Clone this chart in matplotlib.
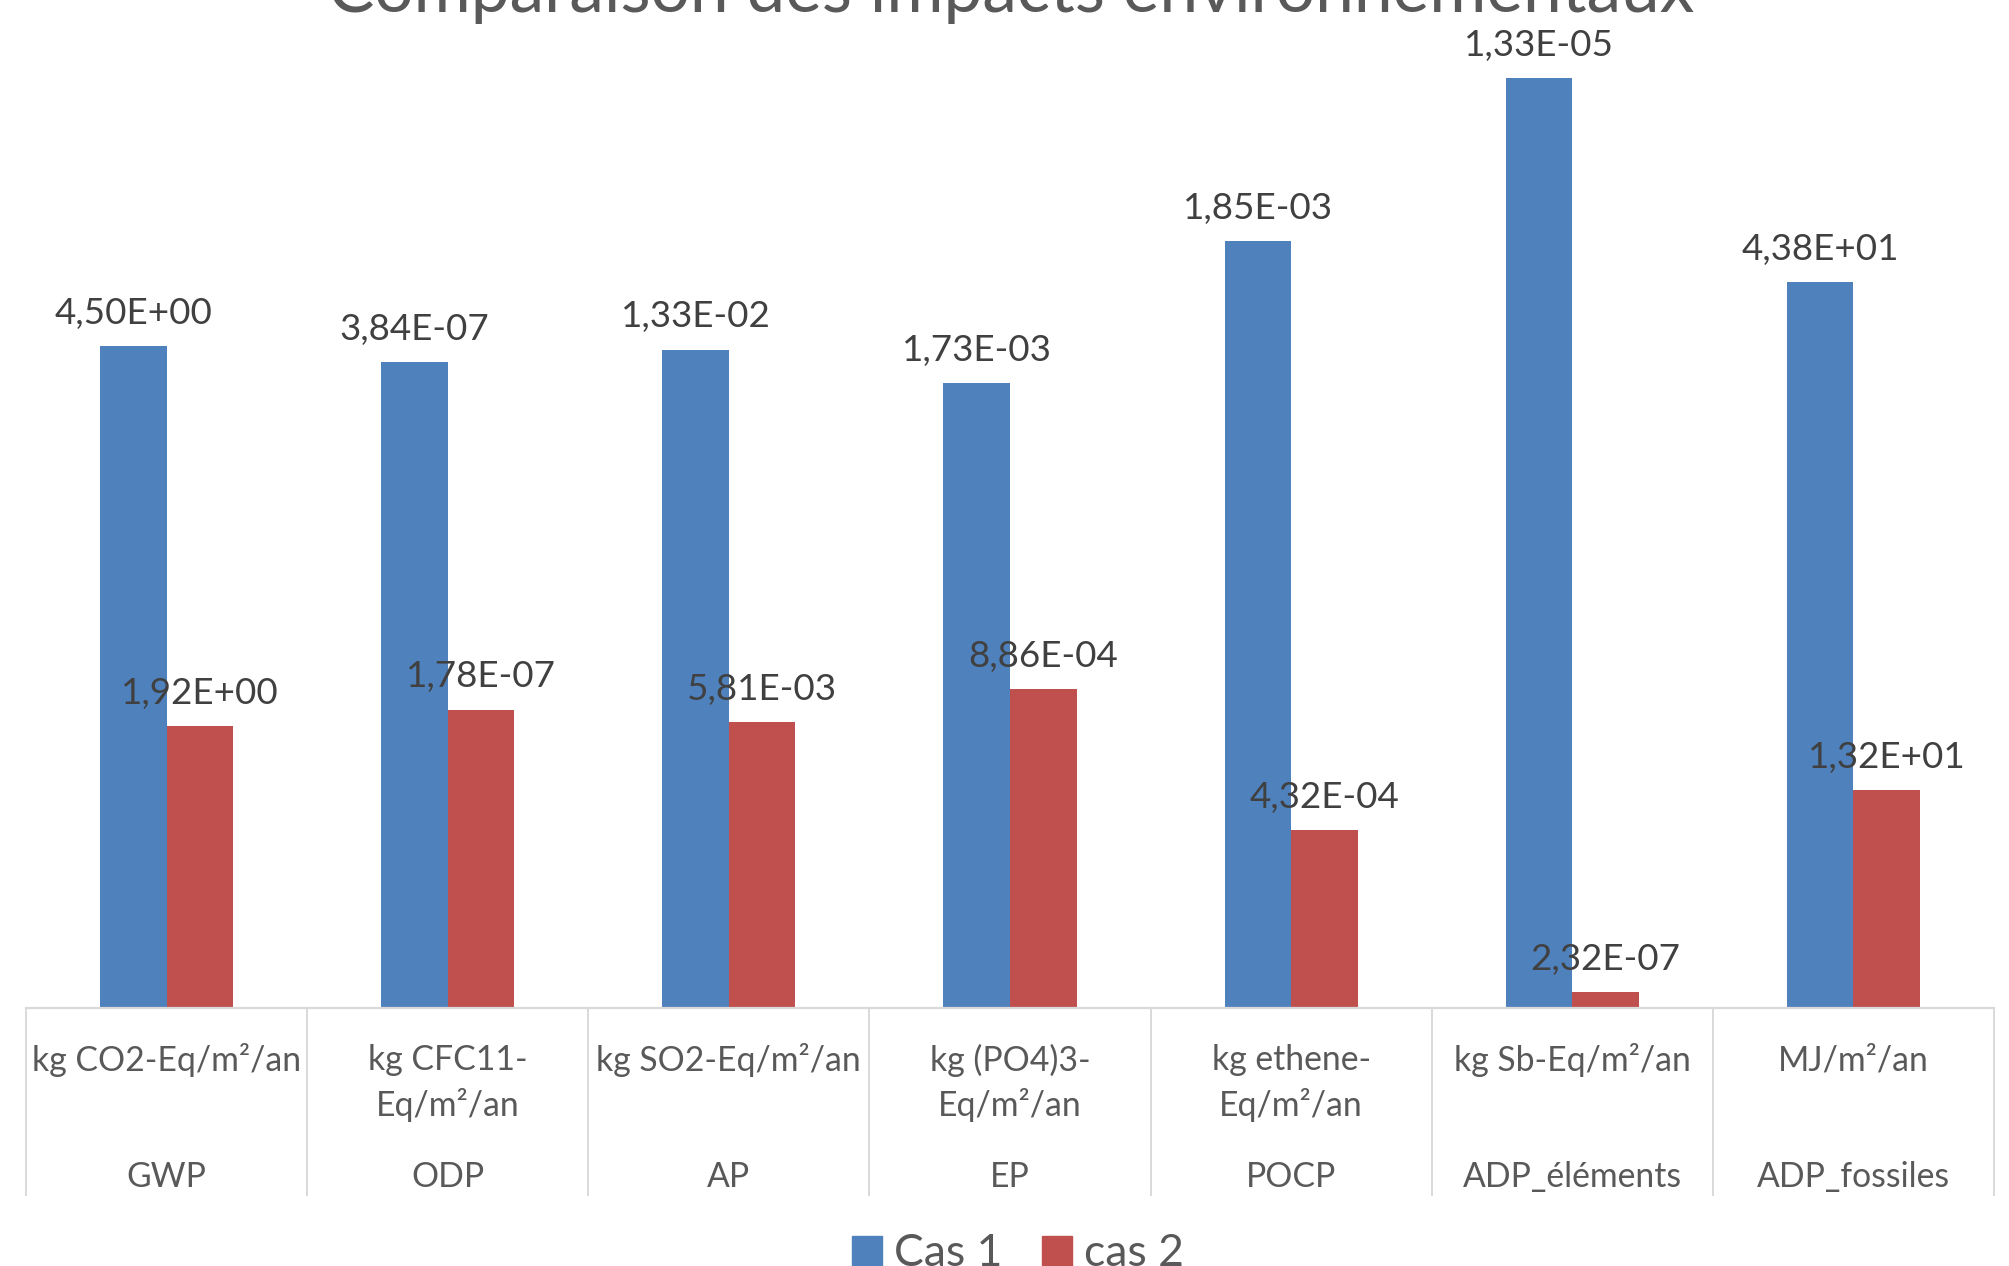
import matplotlib
matplotlib.use("Agg")
import matplotlib.pyplot as plt
import matplotlib.transforms as mtransforms
from matplotlib.patches import Patch

plt.rcParams['font.family'] = ['Lato', 'DejaVu Sans']

# ---- data ----
categories = ["GWP", "ODP", "AP", "EP", "POCP", "ADP_éléments", "ADP_fossiles"]
units = ["kg CO2-Eq/m²/an", "kg CFC11-\nEq/m²/an", "kg SO2-Eq/m²/an",
         "kg (PO4)3-\nEq/m²/an", "kg ethene-\nEq/m²/an", "kg Sb-Eq/m²/an", "MJ/m²/an"]
series_names = ["Cas 1", "cas 2"]
# values shown in data labels
cas1_values = [4.50, 3.84e-7, 1.33e-2, 1.73e-3, 1.85e-3, 1.33e-5, 43.8]
cas2_values = [1.92, 1.78e-7, 5.81e-3, 8.86e-4, 4.32e-4, 2.32e-7, 13.2]
# plotted (normalised) bar heights
cas1_height = [5.17, 5.04, 5.14, 4.88, 5.99, 7.26, 5.67]
cas2_height = [2.20, 2.33, 2.23, 2.49, 1.39, 0.125, 1.70]

BLUE = "#4F81BD"
RED = "#C0504D"
LABEL_C = "#404040"
TICK_C = "#595959"
LINE_C = "#D9D9D9"

W, H = 2009, 1266
fig = plt.figure(figsize=(W / 100, H / 100), dpi=100)
base_px = 1008
ax = fig.add_axes([26 / W, (H - base_px) / H, (1994 - 26) / W, base_px / H])

n = len(categories)
bw = 0.237
x = list(range(n))
b1 = ax.bar([i - bw / 2 for i in x], cas1_height, width=bw, color=BLUE, zorder=2)
b2 = ax.bar([i + bw / 2 for i in x], cas2_height, width=bw, color=RED, zorder=2)

def fmt(v):
    return f"{v:.2E}".replace(".", ",")

for rects, vals in ((b1, cas1_values), (b2, cas2_values)):
    for r, v in zip(rects, vals):
        ax.annotate(fmt(v), (r.get_x() + r.get_width() / 2, r.get_height()),
                    xytext=(0, 16), textcoords="offset points",
                    ha="center", va="baseline", fontsize=26.5, color=LABEL_C)

ax.set_xlim(-0.5, n - 0.5)
ax.set_ylim(0, 7.87)
for s in ("top", "right", "left"):
    ax.spines[s].set_visible(False)
ax.spines["bottom"].set_color(LINE_C)
ax.spines["bottom"].set_linewidth(1.6)
ax.set_xticks([])
ax.set_yticks([])

trans = mtransforms.blended_transform_factory(ax.transData, ax.transAxes)
sep_bottom = -(1195 - base_px) / base_px
for i in range(n + 1):
    ax.plot([i - 0.5, i - 0.5], [0, sep_bottom], color=LINE_C, lw=1.4,
            transform=trans, clip_on=False)

y_l1 = -(1060 - base_px) / base_px
y_l2 = -(1105 - base_px) / base_px
y_nm = -(1177 - base_px) / base_px
for i, (u, c) in enumerate(zip(units, categories)):
    lines = u.split("\n")
    ax.text(i, y_l1, lines[0], transform=trans, ha="center", va="center",
            fontsize=24.3, color=TICK_C)
    if len(lines) > 1:
        ax.text(i, y_l2, lines[1], transform=trans, ha="center", va="center",
                fontsize=24.3, color=TICK_C)
    ax.text(i, y_nm, c, transform=trans, ha="center", va="center",
            fontsize=24.3, color=TICK_C)

fig.text(1011 / W, 1 - 12 / H, "Comparaison des impacts environnementaux",
         ha="center", va="baseline", fontsize=50, color=TICK_C)

handles = [Patch(color=BLUE), Patch(color=RED)]
fig.legend(handles, series_names, loc="center", bbox_to_anchor=(1018 / W, 12 / H),
           ncol=2, frameon=False, fontsize=32, labelcolor=TICK_C,
           handlelength=0.66, handleheight=0.66, handletextpad=0.27,
           columnspacing=0.9, borderpad=0, borderaxespad=0)

fig.savefig("out.png", dpi=100)
